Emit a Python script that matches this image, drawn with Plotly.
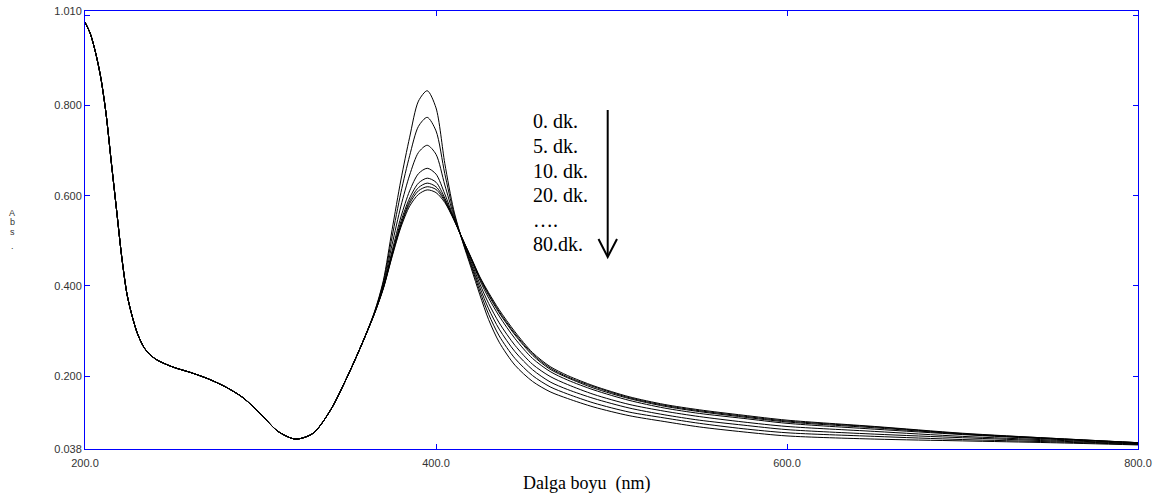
import plotly.graph_objects as go

# ---------------- data ----------------
# common UV part of all spectra (200-358 nm); curves overlap there
wl_uv = [200, 203, 206, 209, 212, 215, 218, 221, 224, 227, 230, 234, 240,
         250, 260, 270, 280, 290, 300, 310, 320, 330, 340, 350, 358]
abs_uv = [0.985, 0.960, 0.918, 0.862, 0.782, 0.674, 0.568, 0.462, 0.380,
          0.331, 0.293, 0.261, 0.238, 0.220, 0.208, 0.194, 0.176, 0.152,
          0.116, 0.077, 0.060, 0.073, 0.125, 0.203, 0.273]

# visible part, where the spectra separate
wl_vis = [365, 370, 375, 380, 385, 390, 395, 400, 405, 410, 415, 420, 425,
          430, 436, 445, 455, 465, 475, 490, 510, 530, 550, 575, 600, 650,
          700, 750, 800]

abs_t0 = [0.343, 0.412, 0.525, 0.635, 0.730, 0.810, 0.833, 0.795, 0.672, 0.570,
          0.500, 0.440, 0.380, 0.325, 0.275, 0.224, 0.188, 0.165, 0.150, 0.131,
          0.112, 0.099, 0.087, 0.076, 0.067, 0.060, 0.056, 0.052, 0.047]
abs_t1 = [0.342, 0.408, 0.509, 0.607, 0.689, 0.754, 0.774, 0.744, 0.649, 0.564,
          0.501, 0.445, 0.388, 0.337, 0.289, 0.239, 0.201, 0.176, 0.160, 0.140,
          0.120, 0.107, 0.095, 0.083, 0.074, 0.066, 0.059, 0.054, 0.048]
abs_t2 = [0.341, 0.403, 0.492, 0.577, 0.646, 0.696, 0.712, 0.692, 0.624, 0.558,
          0.502, 0.449, 0.396, 0.349, 0.304, 0.254, 0.214, 0.187, 0.170, 0.150,
          0.129, 0.114, 0.102, 0.091, 0.081, 0.071, 0.063, 0.056, 0.049]
abs_t3 = [0.340, 0.399, 0.478, 0.553, 0.611, 0.649, 0.661, 0.648, 0.604, 0.553,
          0.503, 0.454, 0.404, 0.361, 0.318, 0.268, 0.226, 0.199, 0.181, 0.159,
          0.137, 0.122, 0.110, 0.098, 0.088, 0.077, 0.066, 0.058, 0.050]
abs_t4 = [0.340, 0.397, 0.472, 0.543, 0.595, 0.628, 0.639, 0.630, 0.595, 0.551,
          0.504, 0.459, 0.412, 0.373, 0.333, 0.283, 0.239, 0.210, 0.191, 0.169,
          0.146, 0.129, 0.117, 0.106, 0.095, 0.082, 0.070, 0.060, 0.051]
abs_t5 = [0.339, 0.396, 0.469, 0.537, 0.588, 0.618, 0.628, 0.620, 0.591, 0.550,
          0.505, 0.461, 0.416, 0.379, 0.340, 0.291, 0.246, 0.215, 0.196, 0.173,
          0.150, 0.133, 0.121, 0.109, 0.098, 0.085, 0.071, 0.061, 0.052]
abs_t6 = [0.339, 0.395, 0.467, 0.534, 0.583, 0.611, 0.620, 0.614, 0.588, 0.549,
          0.505, 0.462, 0.418, 0.382, 0.343, 0.294, 0.249, 0.218, 0.198, 0.176,
          0.152, 0.135, 0.123, 0.111, 0.100, 0.087, 0.072, 0.062, 0.052]
abs_t7 = [0.339, 0.394, 0.465, 0.530, 0.577, 0.603, 0.613, 0.607, 0.585, 0.548,
          0.505, 0.463, 0.420, 0.385, 0.347, 0.298, 0.252, 0.221, 0.201, 0.178,
          0.154, 0.137, 0.125, 0.113, 0.102, 0.088, 0.073, 0.062, 0.052]

series = [abs_t0, abs_t1, abs_t2, abs_t3, abs_t4, abs_t5, abs_t6, abs_t7]

legend_lines = ["0. dk.", "5. dk.", "10. dk.", "20. dk.", "\u2026.", "80.dk."]

x_tickvals = [200, 400, 600, 800]
x_ticktext = ["200.0", "400.0", "600.0", "800.0"]
y_tickvals = [0.038, 0.2, 0.4, 0.6, 0.8, 1.0, 1.010]
y_ticktext = ["0.038", "0.200", "0.400", "0.600", "0.800", "", "1.010"]

# ---------------- figure ----------------
W, H = 1173, 502
L, R, T, B = 85, 35, 11, 53
pw, ph = W - L - R, H - T - B

def px(x):
    return (x - L) / pw

def py(y):
    return (H - B - y) / ph

fig = go.Figure()
for s in series:
    fig.add_trace(go.Scatter(
        x=wl_uv + wl_vis, y=abs_uv + s, mode="lines",
        line=dict(color="black", width=1, shape="spline", smoothing=0.8),
        showlegend=False, hoverinfo="skip"))

blue = "#0000ff"
tickfont = dict(family="Liberation Sans, Arial, sans-serif", size=11, color="#333333")
fig.update_xaxes(range=[200, 800], tickvals=x_tickvals, ticktext=x_ticktext,
                 showgrid=False, zeroline=False, showline=True, linecolor=blue,
                 linewidth=1, mirror="ticks", ticks="inside", ticklen=5,
                 tickcolor=blue, tickfont=tickfont, ticklabelstandoff=4,
                 automargin=False)
fig.update_yaxes(range=[0.038, 1.010], tickvals=y_tickvals, ticktext=y_ticktext,
                 showgrid=False, zeroline=False, showline=True, linecolor=blue,
                 linewidth=1, mirror="ticks", ticks="inside", ticklen=5,
                 tickcolor=blue, tickfont=tickfont, automargin=False)

serif = "Liberation Serif, Times New Roman, serif"
ann = []
leg_y = [121, 146, 170.5, 195, 219.5, 244]
for txt, yy in zip(legend_lines, leg_y):
    ann.append(dict(x=px(531), y=py(yy), xref="paper", yref="paper", text=txt,
                    showarrow=False, xanchor="left", yanchor="middle",
                    font=dict(family=serif, size=20, color="black")))
ann.append(dict(x=px(586), y=py(483), xref="paper", yref="paper",
                text="Dalga boyu\u00a0\u00a0(nm)", showarrow=False,
                xanchor="center", yanchor="middle",
                font=dict(family=serif, size=18, color="black")))
for ch, yy in zip(["A", "b", "s", "."], [212.5, 222, 232, 246]):
    ann.append(dict(x=px(12), y=py(yy), xref="paper", yref="paper", text=ch,
                    showarrow=False, xanchor="center", yanchor="middle",
                    font=dict(family="Liberation Sans, Arial, sans-serif", size=9,
                              color="#333333")))
fig.update_layout(annotations=ann)

# arrow (shaft + open head)
ax = 607.7
fig.add_shape(type="line", xref="paper", yref="paper",
              x0=px(ax), y0=py(110), x1=px(ax), y1=py(256),
              line=dict(color="black", width=2))
fig.add_shape(type="path", xref="paper", yref="paper",
              path=f"M {px(598.5)} {py(239)} L {px(ax)} {py(257)} L {px(617)} {py(239)}",
              line=dict(color="black", width=2))

fig.update_layout(width=W, height=H, margin=dict(l=L, r=R, t=T, b=B),
                  paper_bgcolor="white", plot_bgcolor="white")
fig.write_html("out.html", config={"displayModeBar": False},
               post_script="document.body.style.margin='0';document.body.style.overflow='hidden';")
